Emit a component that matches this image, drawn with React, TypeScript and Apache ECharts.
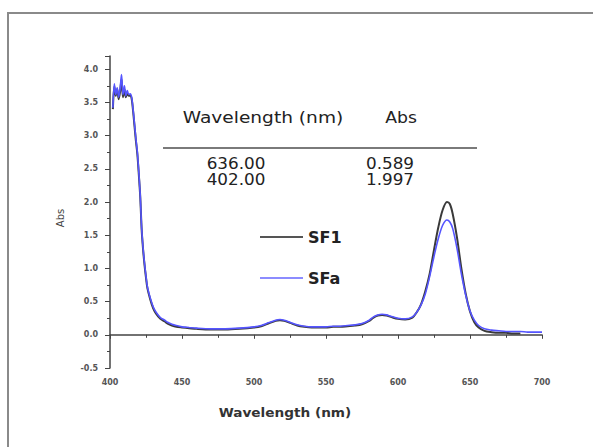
import React, { useEffect, useRef } from "react";
import * as echarts from "echarts";

const wavelengths = [
  402, 403, 404, 405, 406, 407, 408, 409, 410, 411,
  412, 413, 414, 415, 416, 417, 418, 419, 420, 421,
  422, 423, 424, 425, 426, 428, 430, 432, 435, 438,
  440, 443, 446, 450, 455, 460, 470, 480, 490, 500,
  505, 510, 515, 518, 521, 525, 530, 535, 540, 545,
  550, 555, 560, 565, 570, 575, 580, 583, 586, 589,
  592, 595, 600, 605, 610, 613, 616, 619, 622, 625,
  628, 631, 634, 636, 638, 641, 644, 647, 650, 653,
  656, 660, 665, 670, 675, 680, 685, 690, 695, 700,
];

const sfaAbs = [
  3.42, 3.78, 3.62, 3.72, 3.58, 3.70, 3.92, 3.62, 3.75, 3.60,
  3.68, 3.62, 3.63, 3.58, 3.40, 3.18, 2.95, 2.75, 2.45, 2.10,
  1.60, 1.30, 1.07, 0.88, 0.72, 0.55, 0.42, 0.34, 0.26, 0.22,
  0.19, 0.16, 0.14, 0.12, 0.11, 0.10, 0.09, 0.09, 0.10, 0.12,
  0.14, 0.18, 0.22, 0.23, 0.22, 0.19, 0.15, 0.13, 0.12, 0.12,
  0.12, 0.13, 0.13, 0.14, 0.15, 0.17, 0.22, 0.27, 0.30, 0.31,
  0.30, 0.28, 0.25, 0.24, 0.27, 0.34, 0.45, 0.62, 0.88, 1.18,
  1.45, 1.65, 1.73, 1.70, 1.60, 1.30, 0.92, 0.60, 0.36, 0.22,
  0.14, 0.09, 0.07, 0.06, 0.05, 0.05, 0.05, 0.04, 0.04, 0.04,
];

const sf1Abs = [
  3.40, 3.74, 3.60, 3.70, 3.55, 3.66, 3.85, 3.58, 3.70, 3.58,
  3.64, 3.60, 3.60, 3.56, 3.38, 3.15, 2.92, 2.72, 2.42, 2.08,
  1.58, 1.28, 1.05, 0.86, 0.70, 0.53, 0.40, 0.32, 0.24, 0.20,
  0.17, 0.14, 0.12, 0.11, 0.10, 0.09, 0.08, 0.08, 0.09, 0.11,
  0.13, 0.17, 0.21, 0.22, 0.21, 0.18, 0.14, 0.12, 0.11, 0.11,
  0.11, 0.12, 0.12, 0.13, 0.14, 0.16, 0.21, 0.26, 0.29, 0.30,
  0.29, 0.27, 0.24, 0.23, 0.26, 0.34, 0.46, 0.66, 0.92, 1.28,
  1.62, 1.88, 2.00, 1.97, 1.82, 1.46, 1.00, 0.62, 0.35, 0.19,
  0.11, 0.06, 0.04, 0.03, 0.03, 0.02, 0.02,
];

const seriesNames = ["SF1", "SFa"];
const tableHeaders = ["Wavelength (nm)", "Abs"];
const tableWavelengths = ["636.00", "402.00"];
const tableAbs = ["0.589", "1.997"];

const FONT = "DejaVu Sans";

export default function App() {
  const ref = useRef<HTMLDivElement>(null);

  useEffect(() => {
    if (!ref.current) return;
    const chart = echarts.init(ref.current, null, { renderer: "svg" });

    const sf1Data = sf1Abs.map((a, i) => [wavelengths[i], a]);
    const sfaData = sfaAbs.map((a, i) => [wavelengths[i], a]);

    const axisLabelStyle = { color: "#555", fontSize: 8, fontFamily: FONT, fontWeight: "bold" as const };

    const tableText = (text: string, x: number, y: number, scaleX = 1.12) => ({
      type: "text",
      x,
      y,
      scaleX,
      style: {
        text,
        fill: "#222",
        font: `15px "${FONT}"`,
        align: "center",
        verticalAlign: "middle",
      },
    });

    chart.setOption({
      animation: false,
      backgroundColor: "#ffffff",
      grid: { left: 110, right: 51, top: 56, bottom: 79 },
      xAxis: {
        type: "value",
        min: 400,
        max: 700,
        interval: 50,
        axisLine: { show: true, lineStyle: { color: "#444", width: 1.5 } },
        axisTick: { show: true, length: 4, lineStyle: { color: "#444" } },
        minorTick: { show: true, splitNumber: 2, length: 3, lineStyle: { color: "#444" } },
        splitLine: { show: false },
        axisLabel: { ...axisLabelStyle, margin: 10 },
      },
      yAxis: {
        type: "value",
        min: -0.5,
        max: 4.2,
        interval: 0.5,
        axisLine: { show: true, lineStyle: { color: "#444", width: 1.5 } },
        axisTick: { show: true, length: 5, lineStyle: { color: "#444" } },
        minorTick: { show: true, splitNumber: 2, length: 3, lineStyle: { color: "#444" } },
        splitLine: { show: false },
        axisLabel: {
          ...axisLabelStyle,
          margin: 12,
          formatter: (v: number) => (v > 4.05 ? "" : v.toFixed(1)),
        },
      },
      series: [
        {
          name: seriesNames[0],
          type: "line",
          data: sf1Data,
          showSymbol: false,
          smooth: 0.3,
          lineStyle: { color: "#3a3a3a", width: 2 },
          z: 2,
        },
        {
          name: seriesNames[1],
          type: "line",
          data: sfaData,
          showSymbol: false,
          smooth: 0.3,
          lineStyle: { color: "#5555ff", width: 1.6 },
          z: 3,
        },
      ],
      graphic: [
        {
          type: "rect",
          shape: { x: 8, y: 13, width: 620, height: 500 },
          style: { fill: "none", stroke: "#8a8a8a", lineWidth: 2 },
          silent: true,
        },
        {
          type: "text",
          x: 285,
          y: 413,
          scaleX: 1.05,
          style: {
            text: "Wavelength (nm)",
            fill: "#333",
            font: `bold 13px "${FONT}"`,
            align: "center",
            verticalAlign: "middle",
          },
        },
        {
          type: "text",
          x: 60,
          y: 218,
          rotation: Math.PI / 2,
          style: {
            text: "Abs",
            fill: "#444",
            font: `10px "${FONT}"`,
            align: "center",
            verticalAlign: "middle",
          },
        },
        tableText(tableHeaders[0], 263, 118, 1.24),
        tableText(tableHeaders[1], 401, 118, 1.15),
        {
          type: "line",
          shape: { x1: 163, y1: 148, x2: 477, y2: 148 },
          style: { stroke: "#7a7a7a", lineWidth: 2 },
        },
        tableText(tableWavelengths[0], 236, 164),
        tableText(tableAbs[0], 390, 164),
        tableText(tableWavelengths[1], 236, 180),
        tableText(tableAbs[1], 390, 180),
        {
          type: "line",
          shape: { x1: 260, y1: 237, x2: 303, y2: 237 },
          style: { stroke: "#555", lineWidth: 2 },
        },
        {
          type: "text",
          x: 308,
          y: 237,
          style: {
            text: seriesNames[0],
            fill: "#222",
            font: `bold 16px "${FONT}"`,
            align: "left",
            verticalAlign: "middle",
          },
        },
        {
          type: "line",
          shape: { x1: 260, y1: 278, x2: 303, y2: 278 },
          style: { stroke: "#8c8cff", lineWidth: 2 },
        },
        {
          type: "text",
          x: 308,
          y: 278,
          style: {
            text: seriesNames[1],
            fill: "#222",
            font: `bold 16px "${FONT}"`,
            align: "left",
            verticalAlign: "middle",
          },
        },
      ],
    });

    return () => chart.dispose();
  }, []);

  return (
    <div
      ref={ref}
      style={{ position: "fixed", left: 0, top: 0, width: 593, height: 447, background: "#fff" }}
    />
  );
}
